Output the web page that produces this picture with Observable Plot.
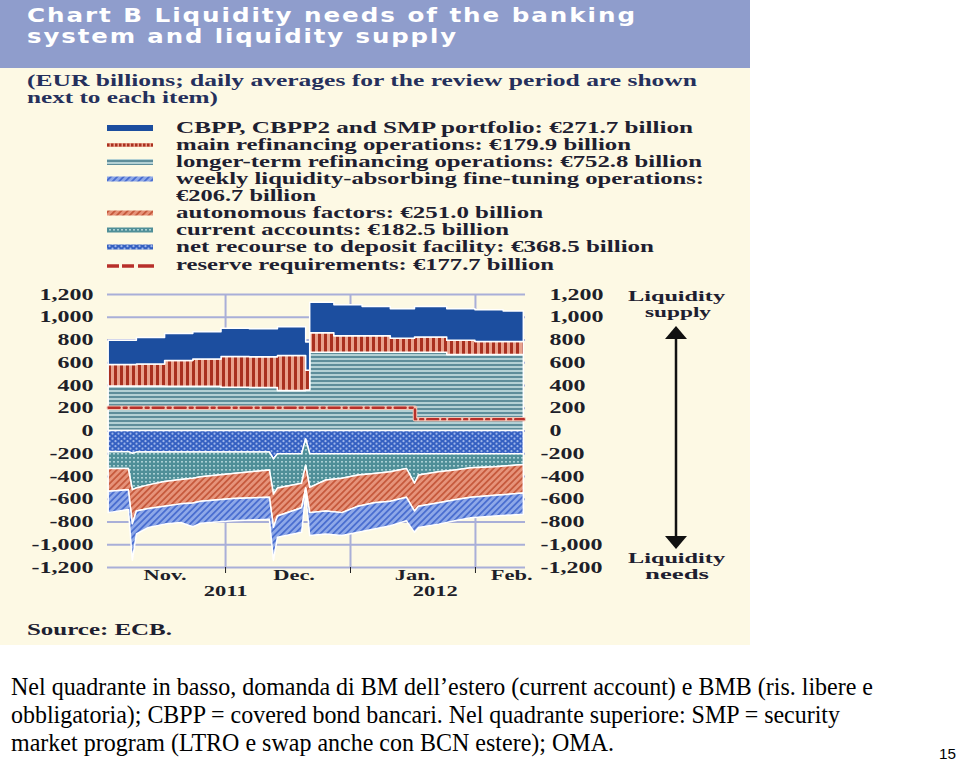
<!DOCTYPE html>
<html><head><meta charset="utf-8">
<script src="https://cdn.jsdelivr.net/npm/d3@7"></script>
<script src="https://cdn.jsdelivr.net/npm/@observablehq/plot@0.6"></script>
<style>
body{margin:0;background:#fff;width:960px;height:762px;position:relative;overflow:hidden;}
.t{position:absolute;white-space:nowrap;line-height:1;}
</style></head><body>
<div style="position:absolute;left:0;top:0;width:750px;height:68px;background:#8f9dcc"></div>
<div style="position:absolute;left:0;top:68px;width:750px;height:577px;background:#fdf9e4"></div>
<div id="chart" style="position:absolute;left:0;top:280px"></div>
<svg id="ov" width="960" height="762" style="position:absolute;left:0;top:0;overflow:visible"></svg>
<script>
// ---------- data (EUR billions) ----------
const supplySeries = ["longer-term refinancing operations", "main refinancing operations", "CBPP, CBPP2 and SMP portfolio"];
const supplyDates = ["2011-11-02","2011-11-09","2011-11-16","2011-11-23","2011-11-30","2011-12-07","2011-12-14","2011-12-21","2011-12-22","2011-12-28","2012-01-04","2012-01-11","2012-01-17","2012-01-25","2012-02-01","2012-02-08","2012-02-13"];
const ltro = [391,391,390,388,380,378,351,355,688,688,688,688,688,668,668,668,668];
const mro  = [190,194,226,240,270,270,308,174,172,144,144,124,135,126,115,115,115];
const cbpp = [213,232,236,240,250,247,253,248,268,273,259,258,268,276,279,267,264];

const needsSeries = ["net recourse to deposit facility", "current accounts", "autonomous factors", "weekly liquidity-absorbing fine-tuning operations"];
const needsDates = ["2011-11-02","2011-11-07","2011-11-08","2011-11-09","2011-11-12","2011-11-16","2011-11-20","2011-11-23","2011-11-25","2011-12-03","2011-12-12","2011-12-13","2011-12-14","2011-12-20","2011-12-21","2011-12-22","2011-12-26","2011-12-30","2012-01-03","2012-01-07","2012-01-11","2012-01-15","2012-01-17","2012-01-18","2012-01-23","2012-01-27","2012-01-31","2012-02-06","2012-02-13"];
const depositFacility = [-184,-186,-200,-190,-188,-188,-188,-188,-188,-189,-190,-250,-205,-205,-75,-204,-204,-204,-204,-204,-204,-204,-204,-204,-204,-204,-204,-204,-204];
const currentAccounts = [-150,-148,-320,-316,-290,-261,-242,-232,-218,-188,-158,-310,-301,-258,-230,-296,-231,-216,-187,-173,-159,-130,-259,-187,-159,-144,-124,-115,-95];
const autonomousFactors = [-201,-187,-300,-202,-207,-216,-215,-217,-216,-221,-239,-290,-245,-216,-201,-222,-273,-302,-274,-259,-259,-253,-245,-274,-273,-260,-259,-251,-251];
const fineTuning = [-187,-173,-320,-202,-167,-158,-164,-209,-193,-196,-193,-290,-187,-216,-54,-202,-202,-202,-230,-230,-216,-207,-187,-187,-187,-186,-179,-181,-187];

const reserveDates = ["2011-11-02","2012-01-17","2012-02-13"];
const reserveRequirements = [205,104,104];

const yTicks = [-1200,-1000,-800,-600,-400,-200,0,200,400,600,800,1000,1200];
const monthStarts = ["2011-12-01","2012-01-01","2012-02-01"];
const monthLabelDates = ["2011-11-16","2011-12-18","2012-01-17","2012-02-10"];
const monthLabels = ["Nov.","Dec.","Jan.","Feb."];
const yearLabelDates = ["2011-12-01","2012-01-22"];
const yearLabels = ["2011","2012"];

const legendItems = [
  "CBPP, CBPP2 and SMP portfolio: €271.7 billion",
  "main refinancing operations: €179.9 billion",
  "longer-term refinancing operations: €752.8 billion",
  "weekly liquidity-absorbing fine-tuning operations:",
  "€206.7 billion",
  "autonomous factors: €251.0 billion",
  "current accounts: €182.5 billion",
  "net recourse to deposit facility: €368.5 billion",
  "reserve requirements: €177.7 billion"
];

// ---------- build tables ----------
const P = s => new Date(s + "T00:00:00Z");
const supplyValues = [ltro, mro, cbpp];
const needsValues = [depositFacility, currentAccounts, autonomousFactors, fineTuning];
const supplyRows = supplySeries.flatMap((s, k) => supplyDates.map((d, i) => ({date: P(d), series: s, value: supplyValues[k][i]})));
const needsRows = needsSeries.flatMap((s, k) => needsDates.map((d, i) => ({date: P(d), series: s, value: needsValues[k][i]})));
const rrRows = reserveDates.map((d, i) => ({date: P(d), value: reserveRequirements[i]}));
const monthRows = monthLabelDates.map((d, i) => ({date: P(d), label: monthLabels[i]}));
const yearRows = yearLabelDates.map((d, i) => ({date: P(d), label: yearLabels[i]}));
const allSeries = [...supplySeries, ...needsSeries];
const patterns = ["url(#pLTRO)","url(#pMRO)","#1c4e9f","url(#pDEP)","url(#pCA)","url(#pAUT)","url(#pFT)"];
const fmt = d => (d < 0 ? "-" : "") + d3.format(",")(Math.abs(d));

const SERIF = "'Liberation Serif', 'Times New Roman', serif";
const grid = "#a9afd8";

const chart = Plot.plot({
  width: 750, height: 333,
  marginLeft: 107, marginRight: 225, marginTop: 14, marginBottom: 46,
  x: {type: "utc", domain: [new Date("2011-11-01T17:00:00Z"), new Date("2012-02-13T10:00:00Z")], axis: null},
  y: {domain: [-1200, 1200], axis: null},
  color: {type: "ordinal", domain: allSeries, range: patterns},
  style: {background: "transparent", overflow: "visible", fontFamily: SERIF, fontSize: "16px", fontWeight: "bold", color: "#1e1f29"},
  marks: [
    Plot.gridY(yTicks, {stroke: grid, strokeOpacity: 1, strokeWidth: 2}),
    Plot.gridX(monthStarts.map(P), {stroke: grid, strokeOpacity: 1, strokeWidth: 2}),
    Plot.areaY(supplyRows, {x: "date", y: "value", z: "series", fill: "series", curve: "step-after", stroke: "white", strokeWidth: 1.5}),
    Plot.areaY(needsRows, {x: "date", y: "value", z: "series", fill: "series", curve: "linear", stroke: "white", strokeWidth: 1.5}),
    Plot.lineY(rrRows, {x: "date", y: "value", curve: "step-after", stroke: "#f1c3b3", strokeWidth: 4.5}),
    Plot.lineY(rrRows, {x: "date", y: "value", curve: "step-after", stroke: "#b8302a", strokeWidth: 2.4, strokeDasharray: "11,4,3,4"}),
    Plot.axisX(monthStarts.map(P), {anchor: "bottom", tickSize: 6, tickFormat: () => "", stroke: "#222", label: null}),
    Plot.axisY(yTicks, {anchor: "left", tickSize: 0, tickPadding: 14, tickFormat: fmt, label: null, fontSize: 16}),
    Plot.axisY(yTicks.filter(d => d >= 0), {anchor: "right", tickSize: 0, tickPadding: 24, tickFormat: fmt, label: null, fontSize: 16}),
    Plot.axisY(yTicks.filter(d => d < 0), {anchor: "right", tickSize: 0, tickPadding: 15, tickFormat: fmt, label: null, fontSize: 16}),
    Plot.text(monthRows, {x: "date", text: "label", frameAnchor: "bottom", dy: 12, fontSize: 15, fontWeight: "bold"}),
    Plot.text(yearRows, {x: "date", text: "label", frameAnchor: "bottom", dy: 28, fontSize: 15, fontWeight: "bold"})
  ]
});

const defs = `
<pattern id="pMRO" width="6" height="6" patternUnits="userSpaceOnUse">
 <rect width="6" height="6" fill="#e9a28d"/><rect width="3" height="6" fill="#a9301f"/></pattern>
<pattern id="pLTRO" width="4" height="4" patternUnits="userSpaceOnUse">
 <rect width="4" height="4" fill="#b3d0d4"/><rect width="4" height="2" fill="#5e8d9a"/></pattern>
<pattern id="pDEP" width="6" height="5" patternUnits="userSpaceOnUse">
 <rect width="6" height="5" fill="#3560c2"/><circle cx="1.5" cy="1.2" r="1.1" fill="#9fb6ea"/><circle cx="4.5" cy="3.7" r="1.1" fill="#9fb6ea"/></pattern>
<pattern id="pCA" width="4" height="4" patternUnits="userSpaceOnUse">
 <rect width="4" height="4" fill="#4f8f98"/><rect x="1" y="1" width="2" height="1.6" fill="#a9cfd3"/></pattern>
<pattern id="pAUT" width="4.5" height="4.5" patternUnits="userSpaceOnUse" patternTransform="rotate(45)">
 <rect width="4.5" height="4.5" fill="#e6937a"/><rect width="1.8" height="4.5" fill="#c65a3d"/></pattern>
<pattern id="pFT" width="4.5" height="4.5" patternUnits="userSpaceOnUse" patternTransform="rotate(45)">
 <rect width="4.5" height="4.5" fill="#8ea8e8"/><rect width="1.8" height="4.5" fill="#4a6ed0"/></pattern>`;
d3.select(chart).insert("defs", ":first-child").html(defs);
document.getElementById("chart").appendChild(chart);

// horizontal stretch of serif labels (original artwork is horizontally stretched)
function stretch(el, s) {
  const t = el.getAttribute("transform");
  if (t) el.setAttribute("transform", t + ` scale(${s},1)`);
  else {
    const x = +el.getAttribute("x") || 0, y = +el.getAttribute("y") || 0;
    el.setAttribute("transform", `translate(${x},${y}) scale(${s},1) translate(${-x},${-y})`);
  }
}
chart.querySelectorAll("text").forEach(el => stretch(el, 1.5));

// ---------- html texts ----------
function txt(str, o) {
  const d = document.createElement("div");
  d.className = "t"; d.textContent = str;
  Object.assign(d.style, {fontSize: o.size + "px", fontFamily: o.font || SERIF, fontWeight: o.weight || "bold",
    color: o.color || "#1e2030", letterSpacing: (o.ls || 0) + "px"});
  document.body.appendChild(d);
  const nat = d.getBoundingClientRect().width;
  const s = o.w ? o.w / nat : (o.s || 1);
  const w = nat * s;
  let left = o.x;
  if (o.anchor === "middle") left = o.x - w / 2; else if (o.anchor === "end") left = o.x - w;
  d.style.left = left + "px"; d.style.top = (o.y - o.size / 2) + "px";
  d.style.transformOrigin = "0 0"; d.style.transform = `scaleX(${s})`;
  return d;
}
const SANS = "'DejaVu Sans', sans-serif";
txt("Chart B Liquidity needs of the banking", {x: 27, y: 15, size: 19, font: SANS, color: "#fff", ls: 1.5, w: 610});
txt("system and liquidity supply", {x: 27, y: 36, size: 19, font: SANS, color: "#fff", ls: 1.5, w: 431});
txt("(EUR billions; daily averages for the review period are shown", {x: 27, y: 81, size: 16, color: "#25305c", w: 670});
txt("next to each item)", {x: 27, y: 98, size: 16, color: "#25305c", w: 191});

const legendY = [128, 145, 162, 179, 196, 213, 230, 247, 265];
const legendW = [517, 455, 526, 528, 140, 367, 333, 478, 378];
legendItems.forEach((s, i) => txt(s, {x: 176, y: legendY[i], size: 16, w: legendW[i]}));

txt("Liquidity", {x: 676, y: 296, size: 15, w: 97, anchor: "middle"});
txt("supply", {x: 678, y: 312, size: 15, w: 66, anchor: "middle"});
txt("Liquidity", {x: 676, y: 558, size: 15, w: 97, anchor: "middle"});
txt("needs", {x: 677, y: 574, size: 15, w: 64, anchor: "middle"});
txt("Source: ECB.", {x: 27, y: 630, size: 16, w: 145});

const SLIDE = "'Liberation Serif', 'Times New Roman', serif";
txt("Nel quadrante in basso, domanda di BM dell\u2019estero (current account) e BMB (ris. libere e", {x: 11, y: 687, size: 26, font: SLIDE, weight: "normal", color: "#000", w: 862});
txt("obbligatoria); CBPP = covered bond bancari. Nel quadrante superiore: SMP = security", {x: 11, y: 715, size: 26, font: SLIDE, weight: "normal", color: "#000", w: 829});
txt("market program (LTRO e swap anche con BCN estere); OMA.", {x: 11, y: 743, size: 26, font: SLIDE, weight: "normal", color: "#000", w: 603});
txt("15", {x: 939, y: 753, size: 15, font: "'Liberation Sans', Arial, sans-serif", weight: "normal", color: "#000", w: 17});

// ---------- legend swatches and arrow ----------
const ov = d3.select("#ov");
const sw = [
  {y: 128, fill: "#1c4e9f", h: 6},
  {y: 145, kind: "dots"},
  {y: 162, fill: "url(#pLTRO)", h: 6},
  {y: 179, fill: "url(#pFT)", h: 5},
  {y: 213, fill: "url(#pAUT)", h: 5},
  {y: 230, fill: "url(#pCA)", h: 5},
  {y: 247, fill: "url(#pDEP)", h: 5},
  {y: 266, kind: "dash"}
];
sw.forEach(s => {
  if (s.kind === "dots") {
    ov.append("line").attr("x1", 107).attr("x2", 153).attr("y1", s.y).attr("y2", s.y).attr("stroke", "#e9a28d").attr("stroke-width", 4);
    ov.append("line").attr("x1", 107).attr("x2", 153).attr("y1", s.y).attr("y2", s.y).attr("stroke", "#a9301f").attr("stroke-width", 3).attr("stroke-dasharray", "2.5,1.5");
  } else if (s.kind === "dash") {
    ov.append("line").attr("x1", 107).attr("x2", 155).attr("y1", s.y).attr("y2", s.y).attr("stroke", "#b8302a").attr("stroke-width", 3.5).attr("stroke-dasharray", "12,3,12,4,4,0");
  } else {
    ov.append("rect").attr("x", 107).attr("y", s.y - s.h / 2).attr("width", 46).attr("height", s.h).attr("fill", s.fill);
  }
});
ov.append("line").attr("x1", 676).attr("x2", 676).attr("y1", 336).attr("y2", 540).attr("stroke", "#111").attr("stroke-width", 2.5);
ov.append("path").attr("d", "M676,326 L665,339 L687,339 Z").attr("fill", "#111");
ov.append("path").attr("d", "M676,549 L665,536 L687,536 Z").attr("fill", "#111");
</script>
</body></html>
